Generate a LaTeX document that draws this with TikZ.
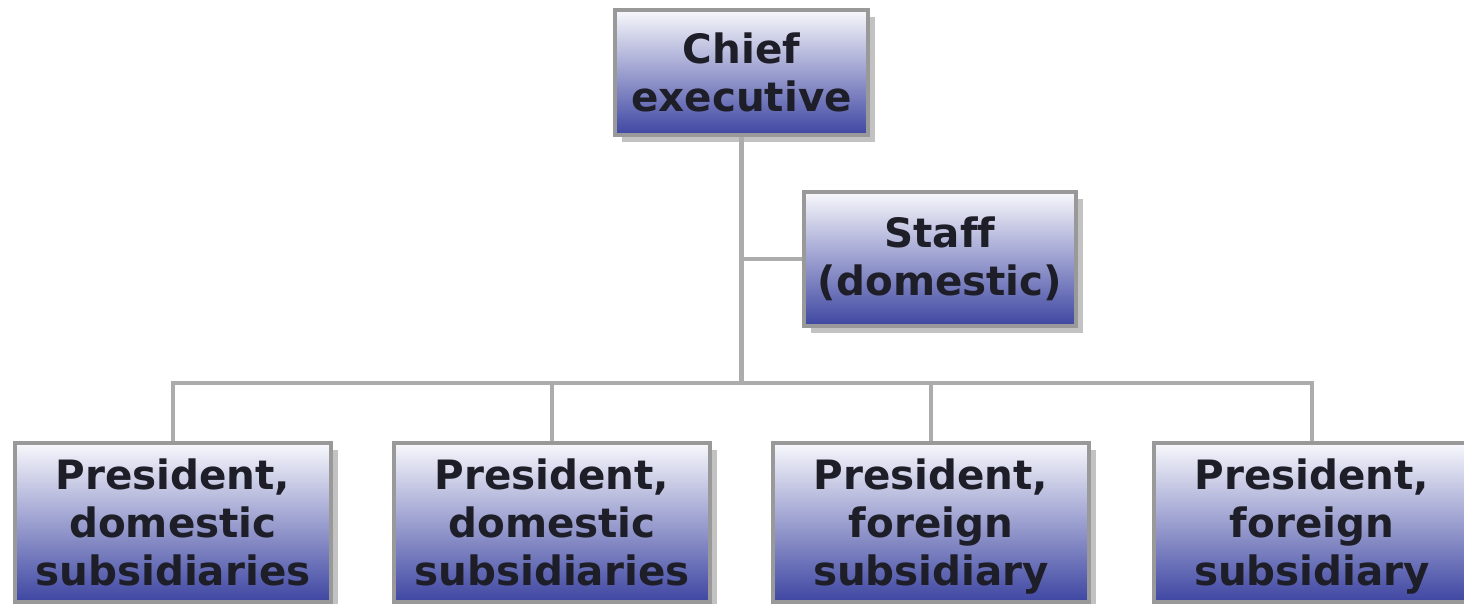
\documentclass[tikz,border=0pt]{standalone}
\usepackage{fontspec}
\setmainfont[Ligatures=NoCommon]{DejaVu Sans}
\usetikzlibrary{shadows}
\definecolor{boxtop}{RGB}{248,248,252}
\definecolor{boxbottom}{RGB}{62,70,162}
\definecolor{linkgray}{RGB}{172,172,172}
\definecolor{unittext}{RGB}{30,30,40}
\begin{document}
\begin{tikzpicture}[
    unit/.style={draw=gray!80, line width=2pt, top color=boxtop, bottom color=boxbottom,
                 text=unittext, align=center, inner sep=0pt,
                 font=\fontsize{23}{27.5}\selectfont\bfseries,
                 drop shadow={shadow xshift=0.14cm, shadow yshift=-0.14cm, fill=black!40, opacity=0.6}},
    link/.style={draw=linkgray, line width=2.4pt}
  ]
    \useasboundingbox (0,0) rectangle (29.28,12.06);

    \node[unit, minimum width=5.06cm, minimum height=2.5cm]  (chief) at (14.83,10.61) {Chief\\executive};
    \node[unit, minimum width=5.44cm, minimum height=2.68cm] (staff) at (18.80,6.88)  {Staff\\(domestic)};

    \coordinate (bus) at (14.86,4.40);

    \node[unit, minimum width=6.32cm, minimum height=3.18cm] (dom1) at (3.46,1.61)  {President,\\domestic\\subsidiaries};
    \node[unit, minimum width=6.32cm, minimum height=3.18cm] (dom2) at (11.04,1.61) {President,\\domestic\\subsidiaries};
    \node[unit, minimum width=6.32cm, minimum height=3.18cm] (for1) at (18.62,1.61) {President,\\foreign\\subsidiar\smash{y}};
    \node[unit, minimum width=6.32cm, minimum height=3.18cm] (for2) at (26.24,1.61) {President,\\foreign\\subsidiar\smash{y}};

    \draw[link] (chief.south) -- (chief.south |- bus);
    \draw[link] (chief.south |- staff.west) -- (staff.west);
    \draw[link] (dom1.north) |- (bus) -| (for2.north);
    \draw[link] (dom2.north) -- (dom2.north |- bus);
    \draw[link] (for1.north) -- (for1.north |- bus);
\end{tikzpicture}
\end{document}
